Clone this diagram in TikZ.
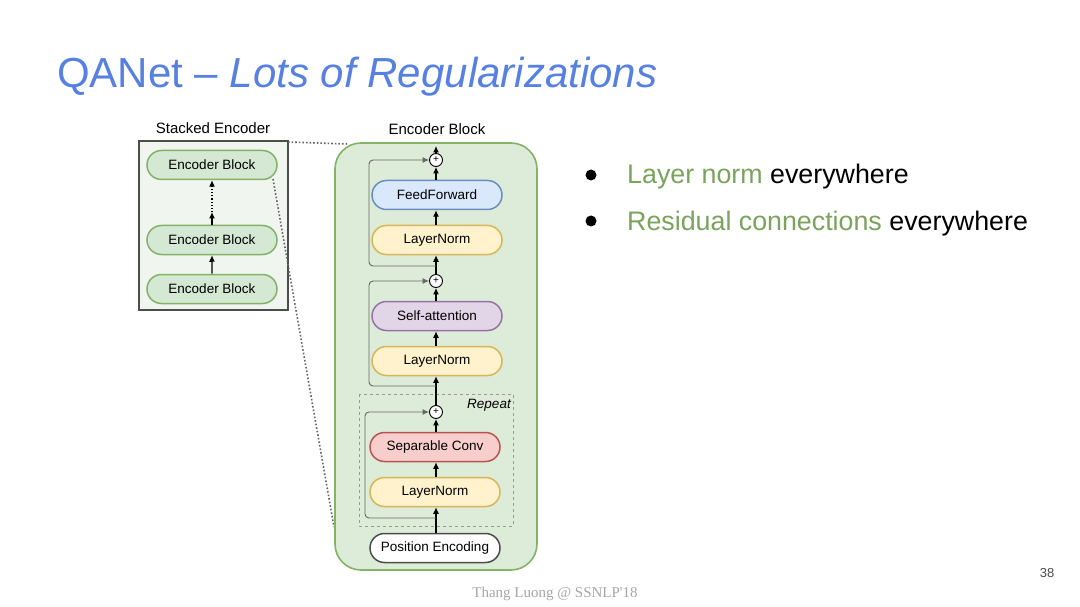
\documentclass[tikz,border=0pt]{standalone}
\usepackage{xcolor}
\usepackage{fontspec}
\setmainfont{Liberation Sans}
\newfontfamily\footfont{Liberation Serif}
\usepackage{tikz}
\usetikzlibrary{arrows.meta,shapes.misc}

\definecolor{titleblue}{RGB}{86,128,226}
\definecolor{termgreen}{RGB}{122,163,92}
\definecolor{greenfill}{RGB}{213,232,212}
\definecolor{greenline}{RGB}{130,179,102}
\definecolor{bigfill}{RGB}{220,236,216}
\definecolor{bluefill}{RGB}{218,232,252}
\definecolor{blueline}{RGB}{108,142,191}
\definecolor{yellowfill}{RGB}{255,242,204}
\definecolor{yellowline}{RGB}{214,182,86}
\definecolor{redfill}{RGB}{248,206,204}
\definecolor{redline}{RGB}{184,84,80}
\definecolor{purplefill}{RGB}{225,213,231}
\definecolor{purpleline}{RGB}{150,115,166}
\definecolor{stackfill}{RGB}{240,245,239}

\tikzset{
  pill/.style={rounded rectangle, draw, line width=1.5pt, minimum width=130pt,
    minimum height=29pt, inner sep=0pt, font=\fontsize{13.5}{14}\selectfont},
  encpill/.style={pill, fill=greenfill, draw=greenline},
  normpill/.style={pill, fill=yellowfill, draw=yellowline},
  ffpill/.style={pill, fill=bluefill, draw=blueline},
  attnpill/.style={pill, fill=purplefill, draw=purpleline},
  convpill/.style={pill, fill=redfill, draw=redline},
  posepill/.style={pill, fill=white, draw=black!70},
  sumnode/.style={circle, draw, line width=0.9pt, fill=white, minimum size=13pt,
    inner sep=0pt, font=\fontsize{10}{10}\selectfont},
  flow/.style={-{Latex[length=6.5pt,width=6pt]}, line width=1.1pt},
  resline/.style={flow, draw=black!60, rounded corners=4pt, line width=0.9pt},
  zoomline/.style={dotted, line width=1.6pt, black!60},
  caption/.style={font=\fontsize{15}{16}\selectfont}
}

\begin{document}
\begin{tikzpicture}[x=1pt,y=-1pt]
\useasboundingbox[fill=white] (0,0) rectangle (1080,607);

% title and bullets
\node[anchor=base west, text=titleblue, font=\fontsize{42}{42}\selectfont, inner sep=0pt]
  (title) at (57,88) {QANet – \textit{Lots of Regularizations}};
\fill (591,175) circle (5.5);
\node[anchor=base west, inner sep=0pt, font=\fontsize{26.8}{28}\selectfont]
  (point a) at (627,184) {\textcolor{termgreen}{Layer norm} everywhere};
\fill (591,221) circle (5.5);
\node[anchor=base west, inner sep=0pt, font=\fontsize{26.8}{28}\selectfont]
  (point b) at (627,230) {\textcolor{termgreen}{Residual connections} everywhere};

% stacked encoder
\node[caption] (stack title) at (213,128) {Stacked Encoder};
\draw[line width=1.2pt, draw=black!70, fill=stackfill] (139,141) rectangle (288,310);
\node[encpill] (enc top) at (212,165) {Encoder Block};
\node[encpill] (enc mid) at (212,240) {Encoder Block};
\node[encpill] (enc bot) at (212,289) {Encoder Block};
\coordinate (dot start) at (212,212);
\draw[flow] (enc bot) -- (enc mid);
\draw[flow] (enc mid) -- (dot start);
\draw[flow, dotted] (dot start) -- (enc top);

% zoom lines
\coordinate (zoom a) at (288,142);
\coordinate (zoom b) at (348,144);
\coordinate (zoom c) at (273,179);
\coordinate (zoom d) at (334,527);
\draw[zoomline] (zoom a) -- (zoom b);
\draw[zoomline] (zoom c) -- (zoom d);

% encoder block
\node[caption] (block title) at (437,129) {Encoder Block};
\draw[line width=1.6pt, draw=greenline, fill=bigfill, rounded corners=26pt]
  (335,143) rectangle (537,570);
\draw[dashed, line width=0.9pt, draw=black!40] (359,394) rectangle (513,526);
\node[font=\itshape\fontsize{13.5}{14}\selectfont] (repeat) at (489,405) {Repeat};

\node[sumnode] (sum1) at (436,160) {+};
\node[ffpill] (ff) at (437,195) {FeedForward};
\node[normpill] (ln1) at (437,240) {LayerNorm};
\node[sumnode] (sum2) at (436,281) {+};
\node[attnpill] (attn) at (437,316) {Self-attention};
\node[normpill] (ln2) at (437,361) {LayerNorm};
\node[sumnode] (sum3) at (436,412) {+};
\node[convpill] (conv) at (435,447) {Separable Conv};
\node[normpill] (ln3) at (435,492) {LayerNorm};
\node[posepill] (pose) at (435,548) {Position Encoding};
\coordinate (out) at (436,146);

\draw[flow] (pose.north -| sum3) -- (ln3.south -| sum3);
\draw[flow] (ln3.north -| sum3) -- (conv.south -| sum3);
\draw[flow] (conv.north -| sum3) -- (sum3);
\draw[flow] (sum3) -- (ln2.south -| sum3);
\draw[flow] (ln2.north -| sum3) -- (attn.south -| sum3);
\draw[flow] (attn.north -| sum3) -- (sum2);
\draw[flow] (sum2) -- (ln1.south -| sum3);
\draw[flow] (ln1.north -| sum3) -- (ff.south -| sum3);
\draw[flow] (ff.north -| sum3) -- (sum1);
\draw[flow] (sum1) -- (out);

% residual connections
\coordinate (split1) at (436,266);
\coordinate (split2) at (436,386);
\coordinate (split3) at (436,518);
\draw[resline] (split1) -| (369,160) -- (sum1);
\draw[resline] (split2) -| (369,281) -- (sum2);
\draw[resline] (split3) -| (365,412) -- (sum3);

% footer
\node[text=black!70, font=\fontsize{13}{14}\selectfont] (page) at (1047,573) {38};
\node[text=black!35, font=\footfont\fontsize{15}{16}\selectfont] (credit) at (555,594)
  {Thang Luong @ SSNLP'18};
\end{tikzpicture}
\end{document}
